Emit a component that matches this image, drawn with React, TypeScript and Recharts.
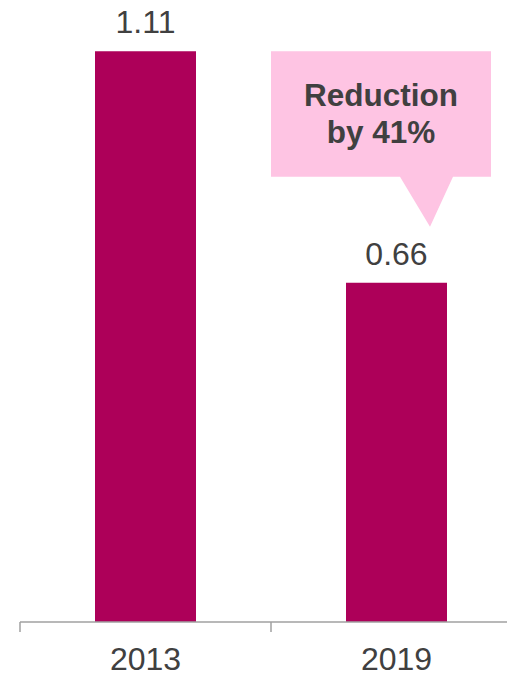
import React from "react";
import { BarChart, Bar, XAxis, YAxis, LabelList, usePlotArea } from "recharts";

const categories = ["2013", "2019"];
const values = [1.11, 0.66];
const valueLabels = ["1.11", "0.66"];
const calloutLines = ["Reduction", "by 41%"];

const data = categories.map((c, i) => ({ year: c, value: values[i], label: valueLabels[i] }));

const BAR = "#AD0059";
const PINK = "#FEC4E3";
const TEXT = "#404040";
const AXIS = "#A0A0A0";
const FONT = "'Liberation Sans', Arial, sans-serif";

function BoundaryTicks() {
  const area = usePlotArea();
  if (!area) return null;
  const n = categories.length;
  const bottom = area.y + area.height;
  const xs = Array.from({ length: n + 1 }, (_, i) => area.x + (area.width * i) / n);
  return (
    <g>
      {xs.map((x, i) => (
        <line key={i} x1={x} x2={x} y1={bottom} y2={bottom + 10} stroke={AXIS} strokeWidth={1.5} />
      ))}
    </g>
  );
}

const renderCallout = (props: any) => {
  const { x, y, width, index } = props;
  if (index !== 1) return null;
  const cx = Number(x) + Number(width) / 2;
  const top = Number(y);
  const boxLeft = cx - 125.5;
  const boxRight = cx + 94.5;
  const boxTop = top - 231.5;
  const boxBottom = top - 106;
  const tipX = cx + 33.5;
  const tipY = top - 56;
  const midX = (boxLeft + boxRight) / 2;
  const midY = (boxTop + boxBottom) / 2;
  const path = `M${boxLeft},${boxTop} L${boxRight},${boxTop} L${boxRight},${boxBottom} L${cx + 56.5},${boxBottom} L${tipX},${tipY} L${cx + 3.5},${boxBottom} L${boxLeft},${boxBottom} Z`;
  return (
    <g>
      <path d={path} fill={PINK} />
      {calloutLines.map((t, i) => (
        <text
          key={i}
          x={midX}
          y={midY - 8 + i * 37}
          textAnchor="middle"
          fontFamily={FONT}
          fontWeight="bold"
          fontSize={31.5}
          fill={TEXT}
        >
          {t}
        </text>
      ))}
    </g>
  );
};

export default function App() {
  return (
    <div style={{ position: "absolute", left: 0, top: 0, width: 507, height: 674, overflow: "hidden", background: "#fff" }}>
      <BarChart
        width={530}
        height={674}
        data={data}
        margin={{ top: 5, right: 8, bottom: 0, left: 20 }}
        barSize={101}
      >
        <XAxis
          dataKey="year"
          height={52}
          axisLine={{ stroke: AXIS, strokeWidth: 1.5 }}
          tickLine={false}
          tickMargin={19}
          tick={{ fill: TEXT, fontSize: 32, fontFamily: FONT }}
        />
        <YAxis hide domain={[0, 1.2]} />
        <Bar dataKey="value" fill={BAR} isAnimationActive={false}>
          <LabelList
            dataKey="label"
            position="top"
            offset={18}
            style={{ fill: TEXT, fontSize: 32, fontFamily: FONT }}
          />
          <LabelList dataKey="label" content={renderCallout} />
        </Bar>
        <BoundaryTicks />
      </BarChart>
    </div>
  );
}
